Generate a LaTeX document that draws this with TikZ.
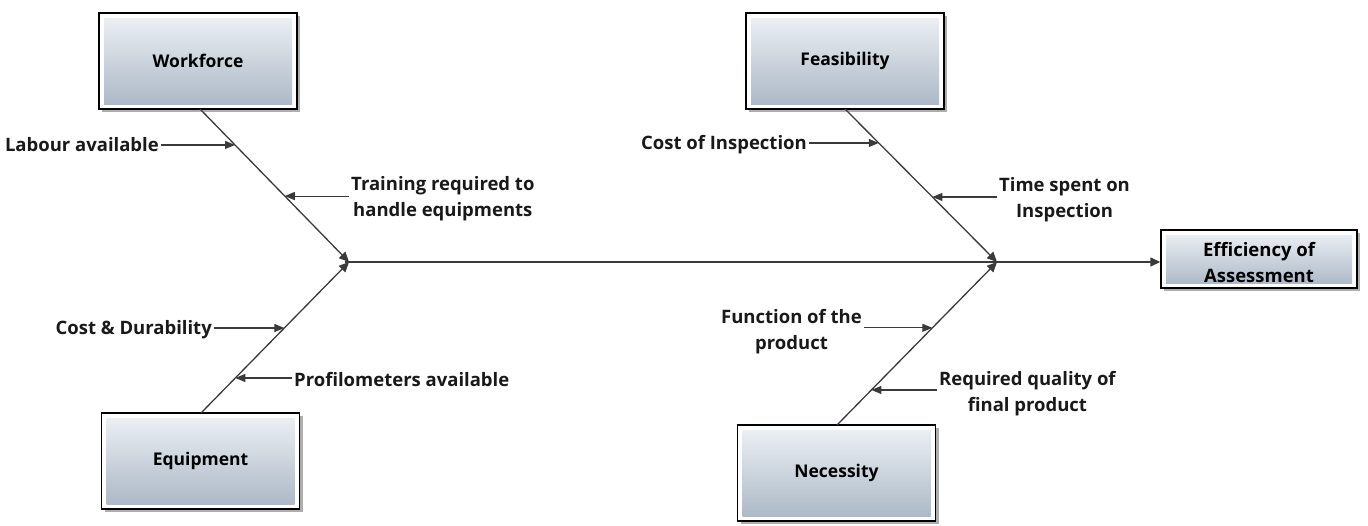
\documentclass[tikz,border=0pt]{standalone}
\usepackage{fontspec}
\setmainfont{Open Sans}
\usetikzlibrary{arrows.meta,shadows}
\definecolor{boxtop}{HTML}{EEF2F6}
\definecolor{boxbot}{HTML}{A9B6C4}
\definecolor{linec}{HTML}{3A3A3A}
\tikzset{
  causebox/.style={draw=black, line width=1.4pt, fill=white,
    minimum width=198pt, minimum height=96pt, inner sep=0pt,
    font=\bfseries\fontsize{17.5}{20}\selectfont,
    drop shadow={shadow xshift=3pt, shadow yshift=-3pt, opacity=0.45, fill=black!70},
    path picture={\shade[top color=boxtop, bottom color=boxbot]
      ([xshift=5pt,yshift=5pt]path picture bounding box.south west) rectangle
      ([xshift=-5pt,yshift=-5pt]path picture bounding box.north east);}},
  effbox/.style={causebox, minimum width=196pt, minimum height=58pt},
  efftext/.style={align=center, inner sep=0pt, font=\bfseries\fontsize{18.5}{26}\selectfont},
  bone/.style={draw=linec, line width=1.3pt, -{Triangle[length=10pt,width=9pt]}},
  sub/.style={draw=linec, line width=1.1pt, -{Triangle[length=10pt,width=8pt]}},
  lab/.style={font=\bfseries\fontsize{18.5}{26}\selectfont, align=center, inner sep=2pt, text=black!90}
}
\begin{document}
\begin{tikzpicture}[x=1pt,y=-1pt]
\useasboundingbox (0,0) rectangle (1368,525);
% cause boxes
\node[causebox] (wf) at (198,61) {Workforce};
\node[causebox] (fe) at (845,61) {Feasibility};
\node[causebox] (eq) at (200.5,461) {Equipment};
\node[causebox] (ne) at (836.5,473) {Necessity};
\node[effbox] (ef) at (1259,259) {};
\node[efftext] (eft) at ([yshift=-4pt]ef.center) {Efficiency of\\Assessment};
% junctions
\coordinate (J1) at (349,262);
\coordinate (J2) at (997,262);
\coordinate (S0) at (345,262);
\coordinate (wfA) at (200,109);
\coordinate (eqA) at (201,413);
\coordinate (feA) at (845,109);
\coordinate (neA) at (837,425);
% spine
\draw[bone] (S0) -- (ef.west |- S0);
% bones
\draw[bone] (wfA) -- (J1);
\draw[bone] (eqA) -- (J1);
\draw[bone] (feA) -- (J2);
\draw[bone] (neA) -- (J2);
% points on bones
\path (wfA) -- (J1) coordinate[pos=0.235] (w1) coordinate[pos=0.569] (w2);
\path (eqA) -- (J1) coordinate[pos=0.563] (e1) coordinate[pos=0.232] (e2);
\path (feA) -- (J2) coordinate[pos=0.222] (f1) coordinate[pos=0.575] (f2);
\path (neA) -- (J2) coordinate[pos=0.596] (n1) coordinate[pos=0.215] (n2);
% labels
\node[lab, anchor=east] (l1) at (161,145) {Labour available};
\node[lab, anchor=west] (l2) at (349,199) {Training required to\\handle equipments};
\node[lab, anchor=east] (l3) at (214,330) {Cost \& Durability};
\node[lab, anchor=west] (l4) at (292,380) {Profilometers available};
\node[lab, anchor=east] (l5) at (809,145) {Cost of Inspection};
\node[lab, anchor=west] (l6) at (997,200) {Time spent on\\Inspection};
\node[lab, anchor=east] (l7) at (864,332) {Function of the\\product};
\node[lab, anchor=west] (l8) at (937,394) {Required quality of\\final product};
% sub arrows
\draw[sub] (l1.east |- w1) -- (w1);
\draw[sub] (l2.west |- w2) -- (w2);
\draw[sub] (l3.east |- e1) -- (e1);
\draw[sub] (l4.west |- e2) -- (e2);
\draw[sub] (l5.east |- f1) -- (f1);
\draw[sub] (l6.west |- f2) -- (f2);
\draw[sub] (l7.east |- n1) -- (n1);
\draw[sub] (l8.west |- n2) -- (n2);
\end{tikzpicture}
\end{document}
